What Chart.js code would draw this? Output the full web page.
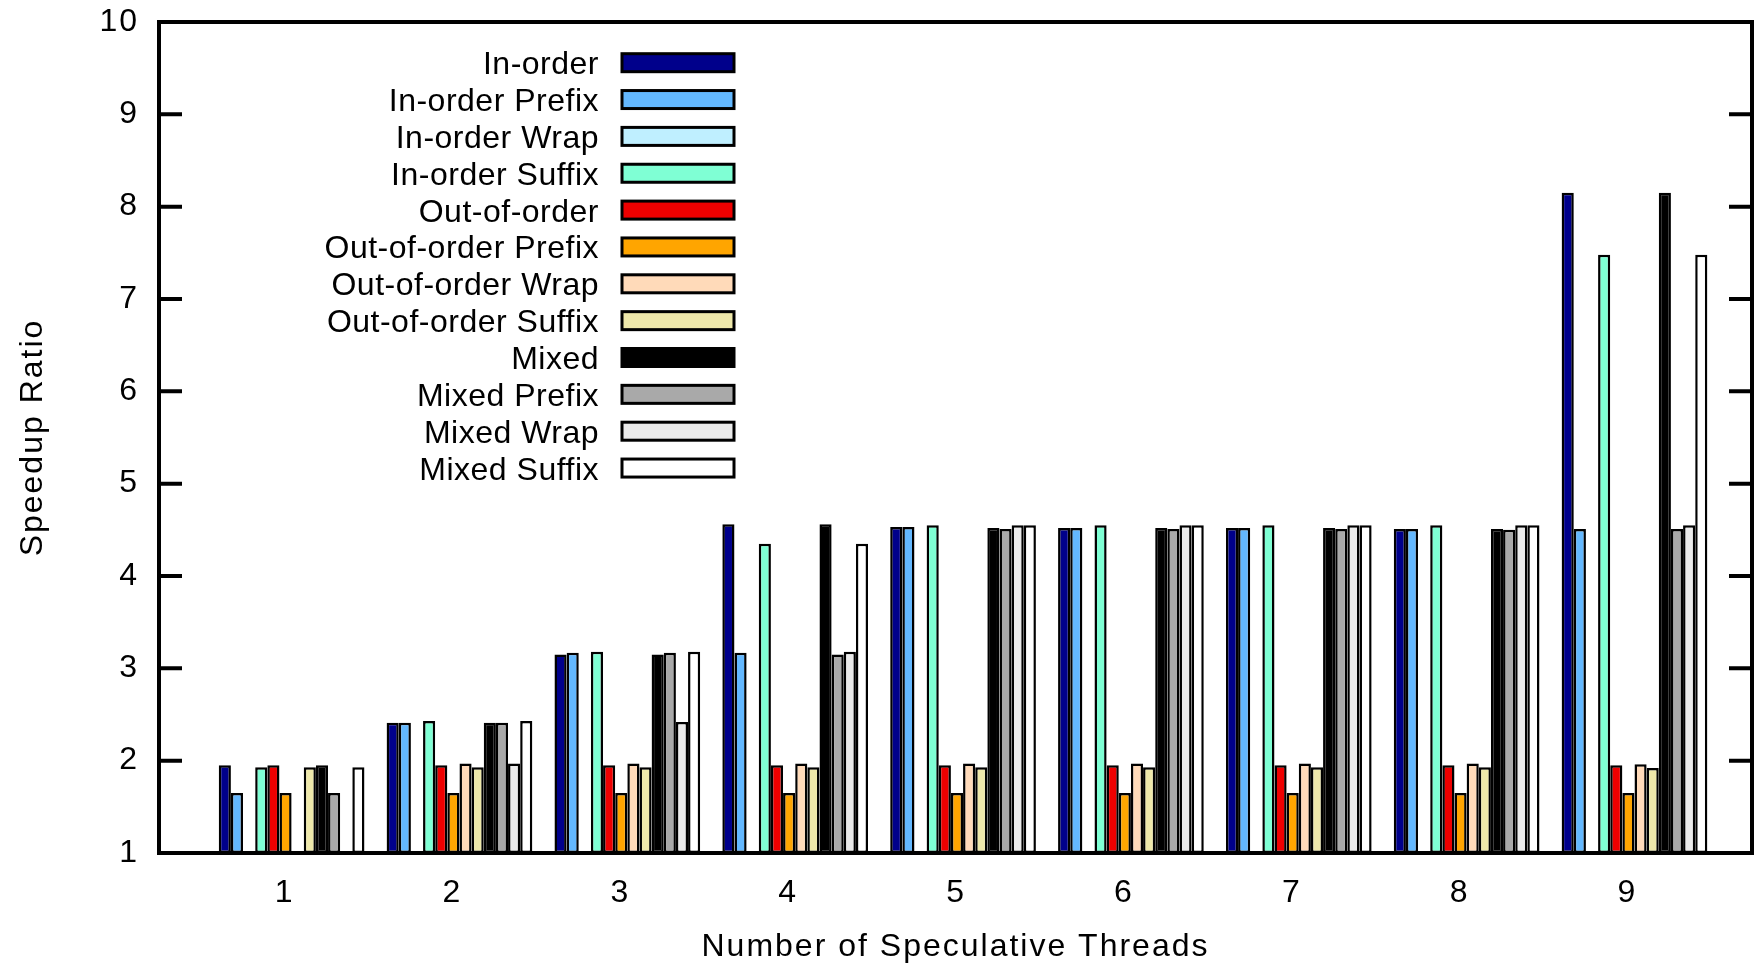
<!DOCTYPE html>
<html lang="en">
<head>
    <meta charset="UTF-8">
    <title>Speedup Ratio</title>
    <style>
        body {
            margin: 0;
            background: #fff;
        }

        #wrap {
            width: 1758px;
            height: 963px;
        }
    </style>
</head>
<body>
    <div id="wrap"><canvas id="speedupChart"></canvas></div>

    <script src="https://cdn.jsdelivr.net/npm/chart.js@4.4.3/dist/chart.umd.min.js"></script>
    <script>
        // number of speculative threads (x ticks)
        const threads = [1, 2, 3, 4, 5, 6, 7, 8, 9];
        const yTicks = [1, 2, 3, 4, 5, 6, 7, 8, 9, 10];

        const seriesNames = [
            'In-order', 'In-order Prefix', 'In-order Wrap', 'In-order Suffix',
            'Out-of-order', 'Out-of-order Prefix', 'Out-of-order Wrap', 'Out-of-order Suffix',
            'Mixed', 'Mixed Prefix', 'Mixed Wrap', 'Mixed Suffix'
        ];

        const inOrder          = [1.95, 2.41, 3.15, 4.56, 4.53, 4.52, 4.52, 4.51, 8.15];
        const inOrderPrefix    = [1.65, 2.41, 3.17, 3.17, 4.53, 4.52, 4.52, 4.51, 4.51];
        const inOrderWrap      = [null, null, null, null, null, null, null, null, null];
        const inOrderSuffix    = [1.93, 2.43, 3.18, 4.35, 4.55, 4.55, 4.55, 4.55, 7.48];
        const outOfOrder       = [1.95, 1.95, 1.95, 1.95, 1.95, 1.95, 1.95, 1.95, 1.95];
        const outOfOrderPrefix = [1.65, 1.65, 1.65, 1.65, 1.65, 1.65, 1.65, 1.65, 1.65];
        const outOfOrderWrap   = [null, 1.97, 1.97, 1.97, 1.97, 1.97, 1.97, 1.97, 1.96];
        const outOfOrderSuffix = [1.93, 1.93, 1.93, 1.93, 1.93, 1.93, 1.93, 1.93, 1.92];
        const mixed            = [1.95, 2.41, 3.15, 4.56, 4.52, 4.52, 4.52, 4.51, 8.15];
        const mixedPrefix      = [1.65, 2.41, 3.17, 3.15, 4.51, 4.51, 4.51, 4.50, 4.51];
        const mixedWrap        = [null, 1.97, 2.42, 3.18, 4.55, 4.55, 4.55, 4.55, 4.55];
        const mixedSuffix      = [1.93, 2.43, 3.18, 4.35, 4.55, 4.55, 4.55, 4.55, 7.48];

        const seriesValues = [
            inOrder, inOrderPrefix, inOrderWrap, inOrderSuffix,
            outOfOrder, outOfOrderPrefix, outOfOrderWrap, outOfOrderSuffix,
            mixed, mixedPrefix, mixedWrap, mixedSuffix
        ];

        const seriesColors = [
            '#00008b', '#63b8ff', '#bfefff', '#7fffd4',
            '#ee0000', '#ffa500', '#ffdab9', '#eee8aa',
            '#000000', '#a9a9a9', '#ebebeb', '#ffffff'
        ];

        const FONT = '"Liberation Sans", Arial, sans-serif';
        Chart.defaults.font.family = FONT;
        Chart.defaults.font.size = 32;
        Chart.defaults.color = '#000';

        // gnuplot-ish spaced text for axes, plain for the rest
        const spacing = {
            id: 'spacing',
            beforeDraw(chart) { chart.ctx.letterSpacing = '2px'; },
            beforeDatasetsDraw(chart) { chart.ctx.letterSpacing = '0px'; }
        };

        // thick frame with inward ticks on both sides
        const frame = {
            id: 'frame',
            afterDatasetsDraw(chart) {
                const ctx = chart.ctx;
                const a = chart.chartArea;
                const y = chart.scales.y;
                ctx.save();
                ctx.strokeStyle = '#000';
                ctx.lineWidth = 4;
                ctx.strokeRect(a.left, a.top, a.right - a.left, a.bottom - a.top);
                y.ticks.forEach(t => {
                    const py = y.getPixelForValue(t.value);
                    ctx.beginPath();
                    ctx.moveTo(a.left, py);
                    ctx.lineTo(a.left + 23, py);
                    ctx.moveTo(a.right, py);
                    ctx.lineTo(a.right - 23, py);
                    ctx.stroke();
                });
                ctx.restore();
            }
        };

        // key inside the plot: label right aligned, swatch on the right
        const key = {
            id: 'key',
            afterDraw(chart) {
                const ctx = chart.ctx;
                ctx.save();
                ctx.letterSpacing = '0.5px';
                ctx.font = '32px ' + FONT;
                ctx.textAlign = 'right';
                ctx.textBaseline = 'alphabetic';
                chart.data.datasets.forEach((ds, i) => {
                    const cy = 62.7 + i * 36.85;
                    ctx.fillStyle = '#000';
                    ctx.fillText(ds.label, 599, cy + 11.5);
                    ctx.fillStyle = ds.backgroundColor;
                    ctx.fillRect(622, cy - 9, 112, 18);
                    ctx.lineWidth = 3;
                    ctx.strokeStyle = '#000';
                    ctx.strokeRect(622, cy - 9, 112, 18);
                });
                ctx.restore();
            }
        };

        const datasets = seriesNames.map((name, i) => ({
            label: name,
            data: threads.map((t, j) => ({ x: t, y: seriesValues[i][j] })),
            backgroundColor: seriesColors[i],
            borderColor: '#000',
            borderWidth: 2.5,
            borderSkipped: false,
            base: 1,
            categoryPercentage: 0.868,
            barPercentage: 1.0
        }));

        window.speedupChart = new Chart(document.getElementById('speedupChart'), {
            type: 'bar',
            data: { datasets: datasets },
            plugins: [spacing, frame, key],
            options: {
                responsive: true,
                maintainAspectRatio: false,
                animation: false,
                layout: { padding: { left: 0, right: 6, top: 22, bottom: 0 } },
                plugins: {
                    legend: { display: false },
                    tooltip: { enabled: false }
                },
                scales: {
                    x: {
                        type: 'linear',
                        offset: false,
                        min: 0.21,
                        max: 9.7,
                        afterBuildTicks: scale => {
                            scale.ticks = threads.map(v => ({ value: v }));
                        },
                        afterFit: scale => {
                            scale.height = 110;
                            scale.paddingLeft = 0;
                            scale.paddingRight = 0;
                        },
                        grid: { display: false, drawTicks: false },
                        border: { display: false },
                        ticks: {
                            padding: 21,
                            labelOffset: -7,
                            maxRotation: 0,
                            autoSkip: false
                        },
                        title: {
                            display: true,
                            text: 'Number of Speculative Threads',
                            font: { lineHeight: 1.0 },
                            padding: { top: 0, bottom: 0 }
                        }
                    },
                    y: {
                        min: 1,
                        max: 10,
                        afterBuildTicks: scale => {
                            scale.ticks = yTicks.map(v => ({ value: v }));
                        },
                        afterFit: scale => {
                            scale.width = 159;
                            scale.paddingTop = 0;
                            scale.paddingBottom = 0;
                        },
                        grid: { display: false, drawTicks: false },
                        border: { display: false },
                        ticks: { padding: 20 },
                        title: {
                            display: true,
                            text: 'Speedup Ratio',
                            padding: { top: 14, bottom: 0 }
                        }
                    }
                }
            }
        });
    </script>
</body>
</html>
